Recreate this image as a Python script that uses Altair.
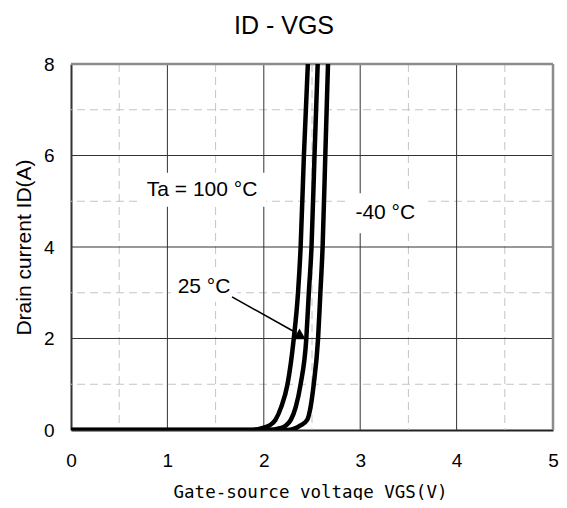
import altair as alt
import pandas as pd

# ---- data ----
id_points = [0.0, 0.0, 0.04, 0.1, 0.22, 0.5, 1.0, 2.0, 3.0, 4.0, 6.0, 8.0]
vgs_100c = [0.0, 1.85, 1.98, 2.06, 2.12, 2.18, 2.246, 2.311, 2.355, 2.382, 2.416, 2.457]
vgs_25c = [0.0, 2.05, 2.17, 2.23, 2.28, 2.331, 2.382, 2.441, 2.467, 2.495, 2.526, 2.559]
vgs_m40c = [0.0, 2.25, 2.33, 2.38, 2.45, 2.485, 2.518, 2.563, 2.587, 2.61, 2.638, 2.666]
series_names = ["100 °C", "25 °C", "-40 °C"]

label_texts = ["Ta = 100 °C", "-40 °C", "25 °C"]
label_x = [1.36, 3.26, 1.38]
label_y = [5.25, 4.74, 3.13]

arrow_x = [1.67, 2.34]
arrow_y = [2.91, 2.12]
arrowhead_x = [2.37]
arrowhead_y = [2.1]

major_x = [1, 2, 3, 4]
major_y = [2, 4, 6]
minor_x = [0.5, 1.5, 2.5, 3.5, 4.5]
minor_y = [1, 3, 5, 7]
x_ticks = [0, 1, 2, 3, 4, 5]
y_ticks = [0, 2, 4, 6, 8]

# ---- tables ----
rows = []
for name, xs_ in zip(series_names, [vgs_100c, vgs_25c, vgs_m40c]):
    for i, (vx, iy) in enumerate(zip(xs_, id_points)):
        rows.append({"series": name, "vgs": vx, "id": iy, "order": i})
curves = pd.DataFrame(rows)
labels = pd.DataFrame({"text": label_texts, "vgs": label_x, "id": label_y})
arrow = pd.DataFrame({"vgs": arrow_x, "id": arrow_y})
head = pd.DataFrame({"vgs": arrowhead_x, "id": arrowhead_y})
mx = pd.DataFrame({"vgs": major_x})
my = pd.DataFrame({"id": major_y})
nx = pd.DataFrame({"vgs": minor_x})
ny = pd.DataFrame({"id": minor_y})

FONT = "Liberation Sans"
W, H = 482, 366
xs = alt.Scale(domain=[0, 5], nice=False, zero=False)
ys = alt.Scale(domain=[0, 8], nice=False)
xaxis = alt.Axis(
    values=x_ticks, grid=False, ticks=False, domain=True, domainColor="#222222",
    domainWidth=2, labelFont=FONT, labelFontSize=19, labelColor="black",
    labelPadding=21, title="Gate-source voltage VGS(V)", titleFont="DejaVu Sans Mono",
    titleFontSize=17.5, titleFontWeight="normal", titleColor="black",
    titleX=W / 2 - 2, titleY=67, titleBaseline="alphabetic", titleAlign="center",
    labelFlush=False, labelOverlap=False,
)
yaxis = alt.Axis(
    values=y_ticks, grid=False, ticks=False, domain=True, domainColor="#333333",
    domainWidth=2, labelFont=FONT, labelFontSize=19, labelColor="black",
    labelPadding=17, title="Drain current ID(A)", titleFont=FONT, titleFontSize=21,
    titleFontWeight="normal", titleColor="black", titleX=-47, titleY=H / 2,
    titleAngle=-90, titleBaseline="middle", titleAlign="center",
    labelFlush=False, labelOverlap=False,
)
X = lambda: alt.X("vgs:Q", scale=xs, axis=xaxis)
Y = lambda: alt.Y("id:Q", scale=ys, axis=yaxis)

minor_v = alt.Chart(nx).mark_rule(color="#c4c4c4", strokeWidth=1, strokeDash=[8, 5]).encode(x=X())
minor_h = alt.Chart(ny).mark_rule(color="#c4c4c4", strokeWidth=1, strokeDash=[8, 5]).encode(y=Y())
major_v = alt.Chart(mx).mark_rule(color="#333333", strokeWidth=1).encode(x=X())
major_h = alt.Chart(my).mark_rule(color="#333333", strokeWidth=1).encode(y=Y())

top_border = alt.Chart(pd.DataFrame({"id": [8]})).mark_rule(color="#8c8c8c", strokeWidth=2.5).encode(y=Y())
right_border = alt.Chart(pd.DataFrame({"vgs": [5]})).mark_rule(color="#8c8c8c", strokeWidth=2.5).encode(x=X())

box_sizes = [(128, 34), (76, 40), (66, 30)]
boxes = []
for t, (w, h) in zip(label_texts, box_sizes):
    boxes.append(
        alt.Chart(labels).transform_filter(alt.datum.text == t)
        .mark_rect(color="white", width=w, height=h)
        .encode(x=X(), y=Y())
    )

lines = alt.Chart(curves).mark_line(
    color="black", strokeWidth=4.5, interpolate="monotone", clip=True
).encode(x=X(), y=Y(), detail="series:N", order="order:Q")

texts = alt.Chart(labels).mark_text(
    font=FONT, fontSize=21, color="black", align="center", baseline="middle"
).encode(x=X(), y=Y(), text="text:N")

arrow_line = alt.Chart(arrow).mark_line(color="black", strokeWidth=1.6).encode(x=X(), y=Y())
arrow_head = alt.Chart(head).mark_point(
    shape="triangle-up", filled=True, color="black", size=150, opacity=1
).encode(x=X(), y=Y())

chart = alt.layer(
    minor_v, minor_h, major_v, major_h, top_border, right_border,
    *boxes, lines, texts, arrow_line, arrow_head,
).properties(
    width=W,
    height=H,
    title=alt.TitleParams(
        text="ID - VGS", font=FONT, fontSize=25, fontWeight="normal", color="black",
        anchor="middle", dx=-28, offset=-4, baseline="alphabetic",
    ),
    autosize=alt.AutoSizeParams(type="none"),
    padding={"left": 63, "top": 56, "right": 6, "bottom": 70},
).configure_view(stroke=None).configure(background="white")

chart.save("out.html", embed_options={"renderer": "svg", "actions": False})
